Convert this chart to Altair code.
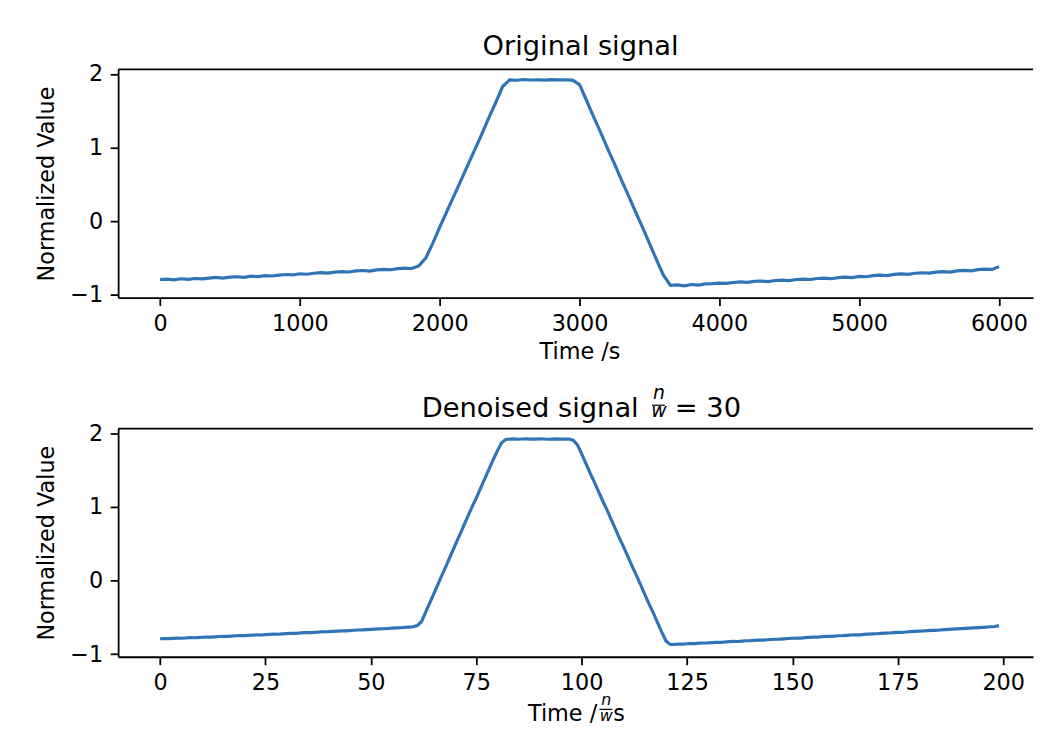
import altair as alt
import pandas as pd

# ---------------- data ----------------
top_time = list(range(0, 6001, 50))
top_value = [
    -0.790, -0.785, -0.795, -0.780, -0.788, -0.776, -0.782, -0.770, -0.762, -0.771,
    -0.757, -0.752, -0.760, -0.745, -0.750, -0.738, -0.742, -0.730, -0.722, -0.728,
    -0.712, -0.718, -0.705, -0.697, -0.703, -0.690, -0.682, -0.688, -0.672, -0.668,
    -0.675, -0.660, -0.652, -0.657, -0.642, -0.636, -0.640, -0.605,
    -0.50, -0.30, -0.08, 0.13, 0.34, 0.55, 0.76, 0.97, 1.18, 1.40, 1.61, 1.83,
    1.921, 1.915, 1.925, 1.918, 1.922, 1.916, 1.924, 1.919, 1.921, 1.917,
    1.855, 1.64, 1.42, 1.21, 0.99, 0.78, 0.56, 0.35, 0.13, -0.08, -0.30, -0.52, -0.73, -0.870,
    -0.862, -0.875, -0.858, -0.866, -0.850, -0.846, -0.838, -0.843, -0.830, -0.822,
    -0.828, -0.815, -0.810, -0.818, -0.803, -0.798, -0.804, -0.790, -0.784, -0.790,
    -0.776, -0.772, -0.779, -0.765, -0.758, -0.764, -0.748, -0.752, -0.738, -0.730,
    -0.736, -0.720, -0.714, -0.720, -0.705, -0.698, -0.704, -0.690, -0.684, -0.689,
    -0.673, -0.667, -0.672, -0.655, -0.648, -0.652, -0.615,
]

den_index = list(range(0, 200))
den_value = [
    -0.790, -0.788, -0.789, -0.785, -0.783, -0.784, -0.780, -0.776, -0.777, -0.774,
    -0.770, -0.768, -0.769, -0.765, -0.760, -0.757, -0.758, -0.754, -0.750, -0.748,
    -0.747, -0.744, -0.740, -0.738, -0.739, -0.735, -0.730, -0.728, -0.729, -0.724,
    -0.720, -0.717, -0.718, -0.713, -0.708, -0.706, -0.707, -0.702, -0.698, -0.695,
    -0.694, -0.690, -0.686, -0.683, -0.684, -0.679, -0.675, -0.672, -0.671, -0.667,
    -0.663, -0.660, -0.657, -0.655, -0.651, -0.646, -0.642, -0.641, -0.637, -0.633,
    -0.628, -0.610,
    -0.56, -0.43, -0.30, -0.17, -0.04, 0.09, 0.22, 0.35, 0.48, 0.61,
    0.74, 0.87, 1.00, 1.12, 1.25, 1.38, 1.51, 1.64, 1.76, 1.87, 1.915,
    1.920, 1.922, 1.918, 1.921, 1.923, 1.920, 1.919, 1.922, 1.921, 1.918,
    1.920, 1.922, 1.919, 1.921, 1.920,
    1.905, 1.84,
    1.72, 1.59, 1.46, 1.34, 1.21, 1.08, 0.96, 0.83, 0.70, 0.57,
    0.45, 0.32, 0.19, 0.07, -0.06, -0.19, -0.32, -0.44, -0.57, -0.70,
    -0.82, -0.868,
    -0.866, -0.862, -0.864, -0.858, -0.855, -0.857, -0.850, -0.848,
    -0.846, -0.842, -0.838, -0.839, -0.834, -0.829, -0.827, -0.828, -0.822, -0.818,
    -0.816, -0.812, -0.809, -0.810, -0.804, -0.800, -0.797, -0.796, -0.791, -0.787,
    -0.784, -0.781, -0.782, -0.776, -0.772, -0.769, -0.768, -0.763, -0.759, -0.757,
    -0.754, -0.750, -0.748, -0.744, -0.739, -0.737, -0.738, -0.732, -0.727, -0.724,
    -0.722, -0.718, -0.714, -0.712, -0.708, -0.704, -0.703, -0.699, -0.694, -0.690,
    -0.688, -0.685, -0.680, -0.677, -0.676, -0.671, -0.667, -0.664, -0.660, -0.656,
    -0.653, -0.650, -0.646, -0.643, -0.640, -0.636, -0.632, -0.628, -0.624, -0.612,
]

top_ticks = [0, 1000, 2000, 3000, 4000, 5000, 6000]
den_ticks = [0, 25, 50, 75, 100, 125, 150, 175, 200]
y_ticks = [-1, 0, 1, 2]

df_top = pd.DataFrame({"t": top_time, "v": top_value})
df_den = pd.DataFrame({"t": den_index, "v": den_value})

# ---------------- layout / style ----------------
W = 922
H = 230
FONT = "DejaVu Sans"
LINE = "#3174b6"
LW = 3.2
FS = 22.5
TFS = 27.5

top_px = 930 / 6600.0
den_px = 930 / 218.9
top_domain = [-300, -300 + W / top_px]
den_domain = [-9.95, -9.95 + W / den_px]
y_domain = [-1.035, 2.063]

y_axis = alt.Axis(
    values=y_ticks, title="Normalized Value", titleX=-65, titleY=H / 2,
    titleAngle=270, titleAlign="center", titleBaseline="alphabetic",
    labelPadding=7.5, minExtent=106, maxExtent=106, grid=False,
)


def x_axis(vals, title):
    kw = dict(values=vals, labelBaseline="alphabetic", labelPadding=24.7,
              grid=False, format="d")
    if title:
        kw.update(title=title, titleX=465, titleY=61, titleAlign="center",
                  titleBaseline="alphabetic")
    else:
        kw.update(title=None)
    return alt.Axis(**kw)


def spine():
    return alt.Chart(alt.Data(values=[{}])).mark_rule(
        color="black", strokeWidth=1.8
    ).encode(x=alt.value(0), x2=alt.value(W), y=alt.value(0))


def txt(s, x, y, size, align="left", italic=False):
    m = dict(align=align, baseline="alphabetic", fontSize=size, font=FONT,
             color="black")
    if italic:
        m["fontStyle"] = "italic"
    return alt.Chart(alt.Data(values=[{}])).mark_text(**m).encode(
        x=alt.value(x), y=alt.value(y), text=alt.value(s))


def bar(x1, x2, y, w=1.2):
    return alt.Chart(alt.Data(values=[{}])).mark_rule(
        color="black", strokeWidth=w
    ).encode(x=alt.value(x1), x2=alt.value(x2), y=alt.value(y))


top_line = alt.Chart(df_top).mark_line(color=LINE, strokeWidth=LW, clip=True).encode(
    x=alt.X("t:Q", scale=alt.Scale(domain=top_domain, nice=False, zero=False),
            axis=x_axis(top_ticks, "Time /s")),
    y=alt.Y("v:Q", scale=alt.Scale(domain=y_domain, nice=False, zero=False),
            axis=y_axis),
)

top = alt.layer(
    top_line, spine(), txt("Original signal", 466, -14.3, TFS, "center")
).properties(width=W, height=H)

den_line = alt.Chart(df_den).mark_line(color=LINE, strokeWidth=LW, clip=True).encode(
    x=alt.X("t:Q", scale=alt.Scale(domain=den_domain, nice=False, zero=False),
            axis=x_axis(den_ticks, None)),
    y=alt.Y("v:Q", scale=alt.Scale(domain=y_domain, nice=False, zero=False),
            axis=y_axis),
)

# title "Denoised signal n/w = 30" with a stacked fraction
title_parts = [
    txt("Denoised signal", 306, -11.8, TFS),
    txt("n", 545, -30, 19, "center", True),
    bar(538, 551, -23.5),
    txt("w", 545, -11.8, 19, "center", True),
    txt("= 30", 561, -11.8, TFS),
]
# x title "Time /(n/w)s"
xtitle_parts = [
    txt("Time /", 413, H + 64.8, FS),
    txt("n", 492, H + 48.5, 16, "center", True),
    bar(485, 498, H + 53),
    txt("w", 492, H + 64.8, 16, "center", True),
    txt("s", 499, H + 64.8, FS),
]

bottom = alt.layer(den_line, spine(), *title_parts, *xtitle_parts).properties(
    width=W, height=H)

chart = alt.vconcat(top, bottom, spacing=21).properties(
    padding={"left": 5, "top": 22, "right": 0, "bottom": 5},
    background="white",
).configure(font=FONT).configure_view(stroke=None).configure_axis(
    labelFont=FONT, titleFont=FONT, labelFontSize=FS, titleFontSize=FS,
    titleFontWeight="normal", labelColor="black", titleColor="black",
    domainColor="black", tickColor="black", domainWidth=1.8, tickWidth=1.8,
    tickSize=8,
)

chart.save("out.html", embed_options={"renderer": "svg", "actions": False})
